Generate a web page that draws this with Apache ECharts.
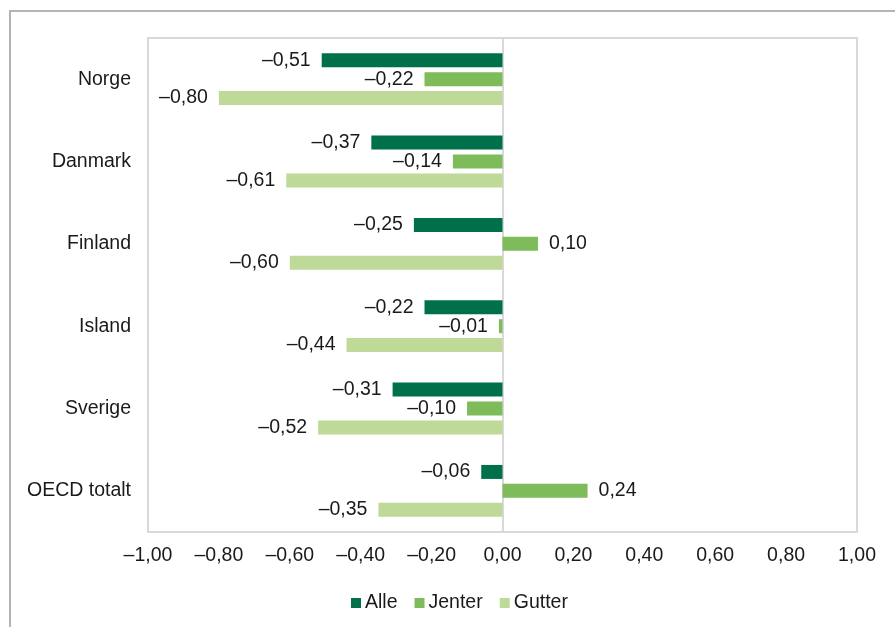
<!DOCTYPE html>
<html>
<head>
<meta charset="utf-8">
<style>
  html, body { margin: 0; padding: 0; background: #ffffff; }
  #chart { width: 895px; height: 627px; }
</style>
<script src="https://cdn.jsdelivr.net/npm/echarts@6/dist/echarts.min.js"></script>
</head>
<body>
<div id="chart"></div>
<script>
// Countries, top to bottom
const categories = ['Norge', 'Danmark', 'Finland', 'Island', 'Sverige', 'OECD totalt'];
const seriesNames = ['Alle', 'Jenter', 'Gutter'];
const alle   = [-0.51, -0.37, -0.25, -0.22, -0.31, -0.06];
const jenter = [-0.22, -0.14,  0.10, -0.01, -0.10,  0.24];
const gutter = [-0.80, -0.61, -0.60, -0.44, -0.52, -0.35];
const colors = ['#00704a', '#7dbb5b', '#bfda98'];

// Norwegian number style: comma decimal, en dash for minus
function fmt(v) {
  const s = Math.abs(v).toFixed(2).replace('.', ',');
  return (v < 0 ? '\u2013' : '') + s;
}

function items(values) {
  return values.map(v => ({
    value: v,
    label: { position: v < 0 ? 'left' : 'right' }
  }));
}

const font = 'Liberation Sans, Arial, sans-serif';
const fontSize = 19.5;
const textColor = '#1a1a1a';
const chart = echarts.init(document.getElementById('chart'));

chart.setOption({
  animation: false,
  color: colors,
  textStyle: { fontFamily: font },
  grid: {
    left: 148, right: 38, top: 38, bottom: 95,
    containLabel: false, outerBoundsMode: 'none',
    show: true, borderColor: '#d9d9d9', borderWidth: 2
  },
  graphic: [{
    type: 'polyline',
    shape: { points: [[10, 640], [10, 11], [900, 11]] },
    style: { stroke: '#b4b4b4', lineWidth: 2, fill: null },
    silent: true
  }],
  xAxis: {
    type: 'value',
    min: -1, max: 1, interval: 0.2,
    axisLine: { show: false },
    axisTick: { show: false },
    splitLine: { show: false },
    axisLabel: {
      formatter: fmt, color: textColor, fontSize: fontSize, margin: 14, fontFamily: font
    }
  },
  yAxis: {
    type: 'category',
    data: categories,
    inverse: true,
    axisLine: { show: true, onZero: true, lineStyle: { color: '#d9d9d9', width: 2 } },
    axisTick: { show: false },
    axisLabel: { color: textColor, fontSize: fontSize, margin: 17, fontFamily: font }
  },
  legend: {
    top: 588, left: 346,
    itemWidth: 10, itemHeight: 10, itemGap: 17,
    icon: 'rect',
    textStyle: { fontSize: fontSize, color: textColor, fontFamily: font, padding: [0, 0, 0, -1] },
    data: seriesNames
  },
  series: [alle, jenter, gutter].map((vals, i) => ({
    name: seriesNames[i],
    type: 'bar',
    data: items(vals),
    barWidth: 14,
    barGap: '35%',
    label: {
      show: true, formatter: p => fmt(p.value), distance: 11,
      fontSize: fontSize, color: textColor, fontFamily: font
    }
  }))
});
</script>
</body>
</html>
